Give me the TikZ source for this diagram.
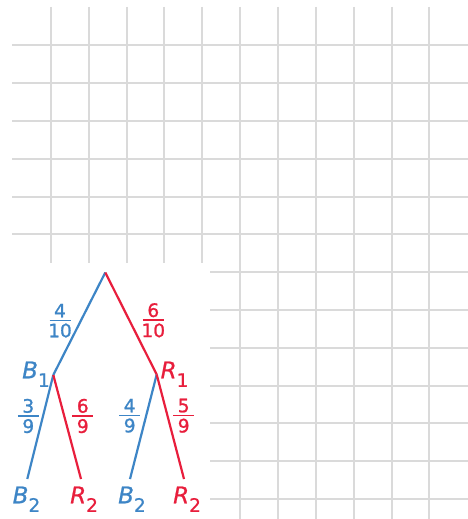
\documentclass[tikz,border=0pt]{standalone}
\usepackage{fontspec}
\setmainfont{DejaVu Sans}
\newfontfamily\fracfont[FakeBold=1.2]{DejaVu Sans}
\newfontfamily\evfont[FakeBold=0.8]{DejaVu Sans}
\definecolor{treeblue}{RGB}{61,133,198}
\definecolor{treered}{RGB}{232,30,60}
\definecolor{gridgray}{RGB}{218,218,218}
\newcommand\fr[2]{\vbox{\hbox to 21pt{\hss#1\hss}\kern2.2pt\hrule height 1.8pt\kern2.2pt\hbox to 21pt{\hss#2\hss}}}
\newcommand\lbl[2]{\textit{#1}\raisebox{-8.5pt}{\fontsize{18.5}{18.5}\selectfont #2}}
\begin{document}
\begin{tikzpicture}[x=1pt,y=-1pt,
  gridline/.style={draw=gridgray,line width=2pt},
  branch/.style={line width=2.2pt},
  prob/.style={inner sep=0pt,font=\fracfont\fontsize{18.5}{18.5}\selectfont},
  event/.style={inner sep=0pt,anchor=base west,font=\evfont\fontsize{23}{23}\selectfont}]
\useasboundingbox (0,0) rectangle (468,519);
\fill[white] (0,0) rectangle (468,519);
% grid
\foreach \y in {45,83,121,159,197,234} \draw[gridline] (12,\y) -- (468,\y);
\foreach \y in {272,310,348,386,423,461,499} \draw[gridline] (210,\y) -- (468,\y);
\foreach \x in {51,89,127,164,202} \draw[gridline] (\x,7) -- (\x,263);
\foreach \x in {240,278,316,354,392,429} \draw[gridline] (\x,7) -- (\x,519);
% tree
\coordinate (root) at (105.3,272.5);
\coordinate (b1) at (53.3,375);
\coordinate (r1) at (156.7,374.5);
\coordinate (bb) at (27.3,479);
\coordinate (br) at (81,479);
\coordinate (rb) at (130,479);
\coordinate (rr) at (184,479);
\draw[branch,treeblue] (root) -- (b1);
\draw[branch,treered] (root) -- (r1);
\draw[branch,treeblue] (b1) -- (bb);
\draw[branch,treered] (b1) -- (br);
\draw[branch,treeblue] (r1) -- (rb);
\draw[branch,treered] (r1) -- (rr);
% probabilities
\node[prob,text=treeblue] (p1) at (60,320.7) {\fr{4}{10}};
\node[prob,text=treered] (p2) at (153.3,320.3) {\fr{6}{10}};
\node[prob,text=treeblue] (p3) at (28.3,416) {\fr{3}{9}};
\node[prob,text=treered] (p4) at (82.8,416) {\fr{6}{9}};
\node[prob,text=treeblue] (p5) at (129.7,415.7) {\fr{4}{9}};
\node[prob,text=treered] (p6) at (183.7,415.7) {\fr{5}{9}};
% events
\node[event,text=treeblue] (B1) at (22,378.3) {\lbl{B}{1}};
\node[event,text=treered] (R1) at (160.5,378.3) {\lbl{R}{1}};
\node[event,text=treeblue] (B2a) at (12.5,503.3) {\lbl{B}{2}};
\node[event,text=treered] (R2a) at (70,503.3) {\lbl{R}{2}};
\node[event,text=treeblue] (B2b) at (118,503.3) {\lbl{B}{2}};
\node[event,text=treered] (R2b) at (173,503.3) {\lbl{R}{2}};
\end{tikzpicture}
\end{document}
